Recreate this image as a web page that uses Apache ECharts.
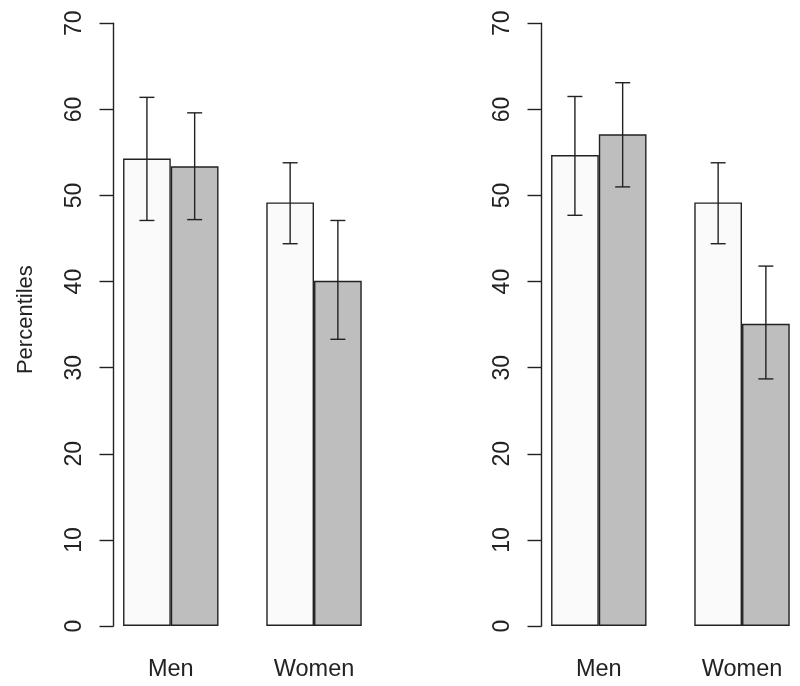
<!DOCTYPE html>
<html>
<head>
<meta charset="utf-8">
<script src="https://cdn.jsdelivr.net/npm/echarts@6/dist/echarts.min.js"></script>
<style>html,body{margin:0;padding:0;background:#fff;}#c{width:800px;height:686px;}</style>
</head>
<body>
<div id="c"></div>
<script>
var categories = ['Men', 'Women'];
var yTicks = [0, 10, 20, 30, 40, 50, 60, 70];
// Left panel
var leftWhite = [54.3, 49.2];
var leftWhiteLo = [47.1, 44.4];
var leftWhiteHi = [61.4, 53.8];
var leftGrey = [53.4, 40.1];
var leftGreyLo = [47.2, 33.3];
var leftGreyHi = [59.6, 47.1];
// Right panel
var rightWhite = [54.7, 49.2];
var rightWhiteLo = [47.7, 44.4];
var rightWhiteHi = [61.5, 53.8];
var rightGrey = [57.1, 35.1];
var rightGreyLo = [51.0, 28.7];
var rightGreyHi = [63.1, 41.8];

var FONT = 'Liberation Sans, Arial, sans-serif';
var LINE = '#222';
// bar positions in R barplot coordinates (space = c(0,1))
var whiteX = [1.5, 4.5];
var greyX = [2.5, 5.5];
var catX = [2, 5];

function barData(xs, vals) { return xs.map(function (x, i) { return [x, vals[i]]; }); }
function errData(xs, lo, hi) { return xs.map(function (x, i) { return [x, lo[i], hi[i]]; }); }

function errSeries(idx, data) {
  return {
    type: 'custom', xAxisIndex: idx, yAxisIndex: idx, z: 10,
    data: data,
    renderItem: function (params, api) {
      var x = api.value(0);
      var lo = api.coord([x, api.value(1)]);
      var hi = api.coord([x, api.value(2)]);
      var w = 7.5;
      var st = { stroke: LINE, lineWidth: 1.4 };
      return { type: 'group', children: [
        { type: 'line', shape: { x1: lo[0], y1: lo[1], x2: hi[0], y2: hi[1] }, style: st },
        { type: 'line', shape: { x1: lo[0] - w, y1: lo[1], x2: lo[0] + w, y2: lo[1] }, style: st },
        { type: 'line', shape: { x1: hi[0] - w, y1: hi[1], x2: hi[0] + w, y2: hi[1] }, style: st }
      ]};
    }
  };
}
function barSeries(idx, data, color) {
  return {
    type: 'bar', xAxisIndex: idx, yAxisIndex: idx, data: data,
    barWidth: 47.7, barGap: '-100%',
    itemStyle: { color: color, borderColor: LINE, borderWidth: 1.4 },
    emphasis: { disabled: true }, silent: true
  };
}
function xAxisDef(idx) {
  return {
    type: 'value', gridIndex: idx, min: 0.8, max: 6.2,
    axisLine: { show: false }, splitLine: { show: false },
    axisTick: { show: false },
    axisLabel: {
      customValues: catX, margin: 32, fontFamily: FONT, fontSize: 23.5, color: '#222',
      formatter: function (v) { var i = catX.indexOf(v); return i >= 0 ? categories[i] : ''; }
    }
  };
}
function yAxisDef(idx, name) {
  return {
    type: 'value', gridIndex: idx, min: yTicks[0], max: yTicks[yTicks.length - 1], interval: 10,
    name: name, nameLocation: 'middle', nameRotate: 90, nameGap: 77,
    nameTextStyle: { fontFamily: FONT, fontSize: 22, color: '#222', padding: [0, 0, 0, 10] },
    axisLine: { show: true, lineStyle: { color: LINE, width: 1.4 } },
    axisTick: { show: true, length: 14, lineStyle: { color: LINE, width: 1.4 } },
    splitLine: { show: false },
    axisLabel: { rotate: 90, margin: 27, fontFamily: FONT, fontSize: 23, color: '#222' }
  };
}

var chart = echarts.init(document.getElementById('c'), null, { renderer: 'canvas' });
chart.setOption({
  backgroundColor: '#fff',
  animation: false,
  grid: [
    { left: 113.5, top: 23.3, width: 257.8, height: 602.7 },
    { left: 541.5, top: 23.3, width: 257.8, height: 602.7 }
  ],
  xAxis: [xAxisDef(0), xAxisDef(1)],
  yAxis: [yAxisDef(0, 'Percentiles'), yAxisDef(1, '')],
  series: [
    barSeries(0, barData(whiteX, leftWhite), '#FAFAFA'),
    barSeries(0, barData(greyX, leftGrey), '#BEBEBE'),
    errSeries(0, errData(whiteX, leftWhiteLo, leftWhiteHi)),
    errSeries(0, errData(greyX, leftGreyLo, leftGreyHi)),
    barSeries(1, barData(whiteX, rightWhite), '#FAFAFA'),
    barSeries(1, barData(greyX, rightGrey), '#BEBEBE'),
    errSeries(1, errData(whiteX, rightWhiteLo, rightWhiteHi)),
    errSeries(1, errData(greyX, rightGreyLo, rightGreyHi))
  ]
});
</script>
</body>
</html>
